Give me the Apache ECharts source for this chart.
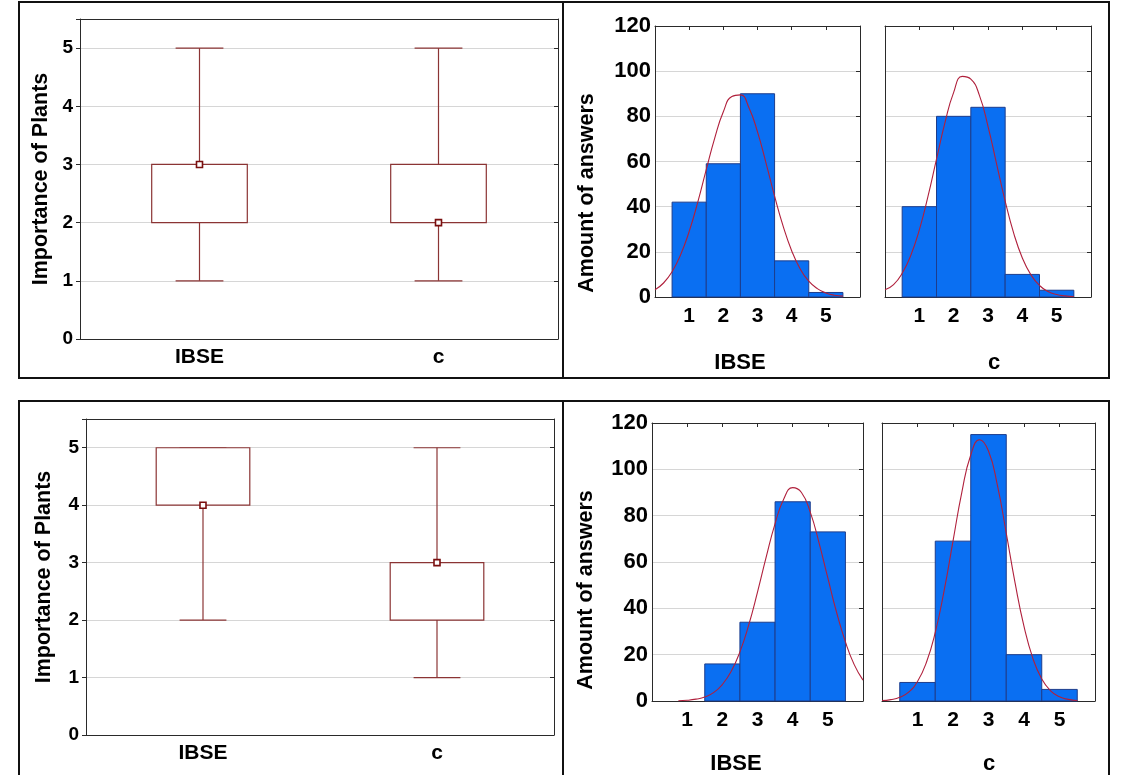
<!DOCTYPE html>
<html>
<head>
<meta charset="utf-8">
<title>Importance of Plants</title>
<script src="https://cdn.jsdelivr.net/npm/echarts@6/dist/echarts.min.js"></script>
<style>
  html, body { margin: 0; padding: 0; background: #fff; }
  #chart { width: 1125px; height: 775px; }
</style>
</head>
<body>
<div id="chart"></div>
<script>
// groups compared in the box plots
const groups = ['IBSE', 'c'];
// box plot stats per group: [min, Q1, median, Q3, max]
const boxTopIBSE = [1, 2, 3, 3, 5];
const boxTopC = [1, 2, 2, 3, 5];
const boxBottomIBSE = [2, 4, 4, 5, 5];
const boxBottomC = [1, 2, 3, 3, 5];

// histogram bins (answer 1..5) and counts
const bins = [1, 2, 3, 4, 5];
const countsTopIBSE = [42, 59, 90, 16, 2];
const countsTopC = [40, 80, 84, 10, 3];
const countsBottomIBSE = [0, 16, 34, 86, 73];
const countsBottomC = [8, 69, 115, 20, 5];

// fitted normal curves (null = not drawn)
const curveX = [0, 0.25, 0.5, 0.75, 1, 1.25, 1.5, 1.75, 2, 2.25, 2.5, 2.75, 3,
  3.25, 3.5, 3.75, 4, 4.25, 4.5, 4.75, 5, 5.25, 5.5, 5.75, 6];
const curveTopIBSE = [3.2, 6.2, 11.2, 18.7, 29.0, 41.9, 56.4, 70.5, 82.0, 88.8, 89.5, 83.8, 73.1,
  59.3, 44.7, 31.4, 20.5, 12.4, 7.0, 3.7, 1.8, 0.8, 0.4, null, null];
const curveTopC = [3.2, 5.5, 10.5, 18.4, 29.7, 44.4, 61.0, 77.4, 90.6, 97.7, 96.5, 89.3, 75.6,
  59.0, 42.5, 28.2, 17.3, 9.8, 5.1, 2.4, 1.1, 0.5, 0.2, null, null];
const curveBottomIBSE = [null, null, null, 0.1, 0.3, 0.8, 1.7, 3.6, 7.1, 12.7, 21.2, 32.8, 47.0,
  62.3, 76.6, 87.3, 92.1, 90.0, 81.5, 68.3, 53.1, 38.2, 25.5, 15.7, 9.0];
const curveBottomC = [0.2, 0.6, 1.6, 3.8, 8.4, 16.6, 29.6, 47.6, 69.0, 90.2, 106.2, 112.8, 107.9,
  93.2, 72.5, 50.9, 32.2, 18.4, 9.5, 4.4, 1.8, 0.7, 0.2, null, null];

const font = '"Liberation Sans", Arial, sans-serif';
const boxColor = '#8b3434';
const markColor = '#7a0f0f';
const barColor = '#0a6ff2';
const barEdge = '#1d3d8c';
const curveColor = '#b0203c';
const gridLine = '#d6d6d6';
const frame = '#2a2a2a';

const chart = echarts.init(document.getElementById('chart'));

function renderBox(params, api) {
  const cat = api.value(0);
  const lo = api.coord([cat, api.value(1)]);
  const q1 = api.coord([cat, api.value(2)]);
  const med = api.coord([cat, api.value(3)]);
  const q3 = api.coord([cat, api.value(4)]);
  const hi = api.coord([cat, api.value(5)]);
  const bw = api.size([1, 0])[0] * 0.4;
  const cx = lo[0];
  const st = { stroke: boxColor, lineWidth: 1.2, fill: null };
  return {
    type: 'group',
    children: [
      { type: 'line', shape: { x1: cx, y1: hi[1], x2: cx, y2: q3[1] }, style: st },
      { type: 'line', shape: { x1: cx, y1: q1[1], x2: cx, y2: lo[1] }, style: st },
      { type: 'line', shape: { x1: cx - bw / 4, y1: hi[1], x2: cx + bw / 4, y2: hi[1] }, style: st },
      { type: 'line', shape: { x1: cx - bw / 4, y1: lo[1], x2: cx + bw / 4, y2: lo[1] }, style: st },
      { type: 'rect', shape: { x: cx - bw / 2, y: q3[1], width: bw, height: q1[1] - q3[1] },
        style: { stroke: boxColor, lineWidth: 1.2, fill: '#fff' } },
      { type: 'rect', shape: { x: cx - 3, y: med[1] - 3, width: 6, height: 6 },
        style: { stroke: markColor, lineWidth: 1.6, fill: '#fff' } }
    ]
  };
}

function renderBar(params, api) {
  const x = api.value(0), n = api.value(1);
  if (!n) return null;
  const a = api.coord([x - 0.5, n]);
  const b = api.coord([x + 0.5, 0]);
  return {
    type: 'rect',
    shape: { x: a[0], y: a[1], width: b[0] - a[0], height: b[1] - a[1] },
    style: { fill: barColor, stroke: barEdge, lineWidth: 1 }
  };
}

const grids = [
  { left: 80, top: 19, width: 478, height: 320 },   // top box plot
  { left: 655, top: 26, width: 205, height: 271 },  // top IBSE hist
  { left: 885, top: 26, width: 206, height: 271 },  // top c hist
  { left: 86, top: 419, width: 468, height: 316 },  // bottom box plot
  { left: 652, top: 423, width: 211, height: 278 }, // bottom IBSE hist
  { left: 882, top: 423, width: 213, height: 278 }  // bottom c hist
];

const xAxes = [];
const yAxes = [];
const line = { show: true, onZero: false, lineStyle: { color: frame, width: 1 } };
const tickStyle = { color: frame, width: 1 };

function addBoxAxes(gi) {
  xAxes.push({
    gridIndex: gi, type: 'category', data: groups, position: 'bottom',
    axisLine: line, axisTick: { alignWithLabel: true, length: 5, lineStyle: tickStyle },
    axisLabel: { fontSize: 21, fontWeight: 'bold', fontFamily: font, color: '#000', margin: 8 }
  });
  xAxes.push({
    gridIndex: gi, type: 'category', data: groups, position: 'top',
    axisLine: line, axisTick: { alignWithLabel: true, inside: true, length: 4, lineStyle: tickStyle },
    axisLabel: { show: false }
  });
  yAxes.push({
    gridIndex: gi, type: 'value', min: 0, max: 5.5, interval: 1,
    axisLine: line, axisTick: { show: true, length: 4, lineStyle: tickStyle },
    axisLabel: { fontSize: 19, fontWeight: 'bold', fontFamily: font, color: '#000', margin: 7,
      formatter: v => (Number.isInteger(v) ? String(v) : '') },
    splitLine: { show: true, lineStyle: { color: gridLine, width: 1 } }
  });
  yAxes.push({
    gridIndex: gi, type: 'value', min: 0, max: 5.5, interval: 1, position: 'right',
    axisLine: line, axisTick: { show: true, inside: true, length: 4, lineStyle: tickStyle },
    axisLabel: { show: false }, splitLine: { show: false }
  });
}

function addHistAxes(gi) {
  xAxes.push({
    gridIndex: gi, type: 'value', min: 0, max: 6, interval: 1, position: 'bottom',
    axisLine: line, axisTick: { show: false },
    axisLabel: { fontSize: 21, fontWeight: 'bold', fontFamily: font, color: '#000', margin: 9,
      formatter: v => (v >= 1 && v <= 5 ? String(v) : '') },
    splitLine: { show: false }
  });
  xAxes.push({
    gridIndex: gi, type: 'value', min: 0, max: 6, interval: 1, position: 'top',
    axisLine: line, axisTick: { show: true, inside: true, length: 4, lineStyle: tickStyle },
    axisLabel: { show: false }, splitLine: { show: false }
  });
  yAxes.push({
    gridIndex: gi, type: 'value', min: 0, max: 120, interval: 20,
    axisLine: line, axisTick: { show: false },
    axisLabel: { show: gi === 1 || gi === 4, fontSize: 22, fontWeight: 'bold', fontFamily: font,
      color: '#000', margin: 4 },
    splitLine: { show: true, lineStyle: { color: gridLine, width: 1 } }
  });
  yAxes.push({
    gridIndex: gi, type: 'value', min: 0, max: 120, interval: 20, position: 'right',
    axisLine: line, axisTick: { show: true, inside: true, length: 4, lineStyle: tickStyle },
    axisLabel: { show: false }, splitLine: { show: false }
  });
}

[0, 1, 2, 3, 4, 5].forEach(gi => (gi === 0 || gi === 3 ? addBoxAxes(gi) : addHistAxes(gi)));

const series = [];

function boxSeries(gi, stats) {
  series.push({
    type: 'custom', xAxisIndex: gi * 2, yAxisIndex: gi * 2,
    renderItem: renderBox, encode: { x: 0, y: [1, 2, 3, 4, 5] },
    data: stats.map((s, i) => [i].concat(s)), z: 3
  });
}

function histSeries(gi, counts, curve) {
  series.push({
    type: 'custom', xAxisIndex: gi * 2, yAxisIndex: gi * 2,
    renderItem: renderBar, encode: { x: 0, y: 1 },
    data: bins.map((b, i) => [b, counts[i]]), z: 2
  });
  series.push({
    type: 'line', xAxisIndex: gi * 2, yAxisIndex: gi * 2, smooth: true,
    showSymbol: false, silent: true, z: 4,
    lineStyle: { color: curveColor, width: 1.1 },
    data: curveX.map((x, i) => [x, curve[i]]).filter(p => p[1] !== null)
  });
}

boxSeries(0, [boxTopIBSE, boxTopC]);
histSeries(1, countsTopIBSE, curveTopIBSE);
histSeries(2, countsTopC, curveTopC);
boxSeries(3, [boxBottomIBSE, boxBottomC]);
histSeries(4, countsBottomIBSE, curveBottomIBSE);
histSeries(5, countsBottomC, curveBottomC);

function label(text, x, y, size, rotate) {
  return {
    type: 'text', x: x, y: y, rotation: rotate ? Math.PI / 2 : 0, z: 10,
    style: { text: text, fill: '#000', fontSize: size, fontWeight: 'bold', fontFamily: font,
      align: 'center', verticalAlign: 'middle' }
  };
}

const panelStroke = { stroke: '#111', lineWidth: 2, fill: null };

chart.setOption({
  animation: false,
  backgroundColor: '#fff',
  grid: grids,
  xAxis: xAxes,
  yAxis: yAxes,
  series: series,
  graphic: [
    { type: 'rect', shape: { x: 19, y: 2, width: 1090, height: 376 }, style: panelStroke, z: 1 },
    { type: 'rect', shape: { x: 19, y: 401, width: 1090, height: 376 }, style: panelStroke, z: 1 },
    { type: 'line', shape: { x1: 563, y1: 2, x2: 563, y2: 378 }, style: panelStroke, z: 1 },
    { type: 'line', shape: { x1: 563, y1: 401, x2: 563, y2: 777 }, style: panelStroke, z: 1 },
    label('Importance of Plants', 41, 179, 21.5, true),
    label('Importance of Plants', 44, 577, 21.5, true),
    label('Amount of answers', 587, 193, 21.5, true),
    label('Amount of answers', 586, 590, 21.5, true),
    label('IBSE', 740, 363, 22),
    label('c', 994, 363, 22),
    label('IBSE', 736, 764, 22),
    label('c', 989, 764, 22)
  ]
});
</script>
</body>
</html>
